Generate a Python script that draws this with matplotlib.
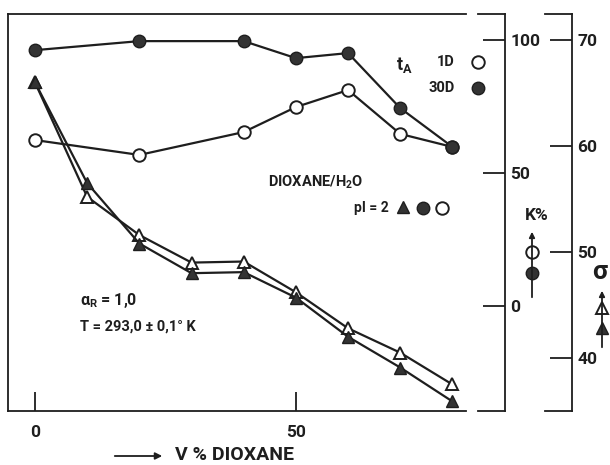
import matplotlib
matplotlib.use("Agg")
import matplotlib.pyplot as plt

plt.rcParams['font.family'] = ['Roboto', 'DejaVu Sans']
plt.rcParams['mathtext.fontset'] = 'custom'
plt.rcParams['mathtext.rm'] = 'Roboto:bold'
plt.rcParams['mathtext.default'] = 'regular'

# data
v_dioxane = [0, 20, 40, 50, 60, 70, 80]
k_1d = [62.4, 56.8, 65.4, 74.8, 81.2, 64.7, 59.8]
k_30d = [96.2, 99.6, 99.6, 93.2, 95.1, 74.4, 59.8]

v_sigma = [0, 10, 20, 30, 40, 50, 60, 70, 80]
sigma_30d = [66.0, 56.5, 50.8, 48.0, 48.1, 45.7, 42.0, 39.1, 35.9]
sigma_1d = [66.0, 55.2, 51.6, 49.0, 49.1, 46.2, 42.8, 40.5, 37.5]

x_ticks = [0, 50]
k_ticks = [0, 50, 100]
sigma_ticks = [40, 50, 60, 70]

W, H = 610, 465
INK = '#1e1e1e'
DARK = '#333333'


def box(l, t, r, b):
    return [l / W, 1 - b / H, (r - l) / W, (b - t) / H]


fig = plt.figure(figsize=(W / 100, H / 100), dpi=100)

k_lim = (-39.5, 109.8)
s_lim = (35.0, 72.45)

ax = fig.add_axes(box(8, 14, 466, 411))
ax.set_xlim(-5.17, 82.6)
ax.set_ylim(*k_lim)
ax.spines['right'].set_visible(False)
for s in ['left', 'top', 'bottom']:
    ax.spines[s].set_linewidth(1.3)
    ax.spines[s].set_color(INK)
ax.set_yticks([])
ax.set_xticks(x_ticks)
ax.set_xticklabels(['0', '50'], fontsize=12.5, fontweight='bold', color=INK)
ax.tick_params(axis='x', direction='in', length=14, width=1.3, pad=10, colors=INK)

ax2 = ax.twinx()
ax2.set_ylim(*s_lim)
ax2.axis('off')

lw = 1.6
ms = 9
# sigma curves (triangles)
ax2.plot(v_sigma, sigma_1d, '-', color=INK, lw=lw, marker='^', ms=ms,
         mfc='white', mec=INK, mew=1.4, zorder=3)
ax2.plot(v_sigma, sigma_30d, '-', color=INK, lw=lw, marker='^', ms=ms,
         mfc=DARK, mec=INK, mew=1.0, zorder=4)
# K% curves (circles)
ax.plot(v_dioxane, k_30d, '-', color=INK, lw=lw, marker='o', ms=ms,
        mfc=DARK, mec=INK, mew=1.0, zorder=4)
ax.plot(v_dioxane, k_1d, '-', color=INK, lw=lw, marker='o', ms=ms,
        mfc='white', mec=INK, mew=1.4, zorder=3)
ax.set_zorder(2)
ax.patch.set_visible(False)


# right-hand scales
def side_axis(l, r, lim, ticks):
    a = fig.add_axes(box(l, 14, r, 411))
    a.set_ylim(*lim)
    a.set_xticks([])
    a.spines['left'].set_visible(False)
    for s in ['right', 'top', 'bottom']:
        a.spines[s].set_linewidth(1.3)
        a.spines[s].set_color(INK)
    a.yaxis.tick_right()
    a.set_yticks(ticks)
    a.set_yticklabels([str(t) for t in ticks], fontsize=12.5, fontweight='bold', color=INK)
    a.tick_params(axis='y', direction='in', length=16, width=1.3, pad=4, colors=INK)
    a.patch.set_visible(False)
    return a


side_axis(478, 505, k_lim, k_ticks)
side_axis(545, 572, s_lim, sigma_ticks)

# overlay in image pixel coordinates for annotations
ov = fig.add_axes([0, 0, 1, 1])
ov.set_xlim(0, W)
ov.set_ylim(H, 0)
ov.axis('off')
ov.patch.set_visible(False)

tk = dict(color=INK, fontweight='bold', va='center')
ov.text(396, 65, r'$t_A$', fontsize=13, **tk)
ov.text(455, 62, '1D', fontsize=10.5, ha='right', **tk)
ov.text(455, 88, '30D', fontsize=10.5, ha='right', **tk)
ov.plot([478], [62], 'o', ms=ms, mfc='white', mec=INK, mew=1.4)
ov.plot([478], [88], 'o', ms=ms, mfc=DARK, mec=INK, mew=1.0)

ov.text(268, 182, r'DIOXANE/H$_2$O', fontsize=10.5, ha='left', **tk)
ov.text(354, 208, 'pI = 2', fontsize=10, ha='left', **tk)
ov.plot([403], [207], '^', ms=ms, mfc=DARK, mec=INK, mew=1.0)
ov.plot([423], [208], 'o', ms=ms, mfc=DARK, mec=INK, mew=1.0)
ov.plot([442], [208], 'o', ms=ms, mfc='white', mec=INK, mew=1.4)

ov.text(80, 300, r'$\alpha_R$ = 1,0', fontsize=11.5, ha='left', **tk)
ov.text(80, 327, 'T = 293,0 ± 0,1° K', fontsize=10.5, ha='left', **tk)

# K% key
ov.text(537, 215, 'K%', fontsize=12.5, ha='center', **tk)
ov.annotate('', xy=(532, 229), xytext=(532, 300),
            arrowprops=dict(arrowstyle='-|>', color=INK, lw=1.3, mutation_scale=8))
ov.plot([532], [252], 'o', ms=ms, mfc='white', mec=INK, mew=1.4)
ov.plot([532], [273], 'o', ms=ms, mfc=DARK, mec=INK, mew=1.0)

# sigma key
ov.text(600, 272, 'σ', fontsize=19, ha='center', **tk)
ov.annotate('', xy=(602, 288), xytext=(602, 350),
            arrowprops=dict(arrowstyle='-|>', color=INK, lw=1.3, mutation_scale=8))
ov.plot([602], [308], '^', ms=ms, mfc='white', mec=INK, mew=1.4)
ov.plot([602], [328], '^', ms=ms, mfc=DARK, mec=INK, mew=1.0)

# x axis label with arrow
ov.annotate('', xy=(165, 456), xytext=(112, 456),
            arrowprops=dict(arrowstyle='-|>', color=INK, lw=1.3, mutation_scale=10))
ov.text(175, 455, 'V % DIOXANE', fontsize=14, ha='left', **tk)

fig.savefig('out.png', dpi=100)
